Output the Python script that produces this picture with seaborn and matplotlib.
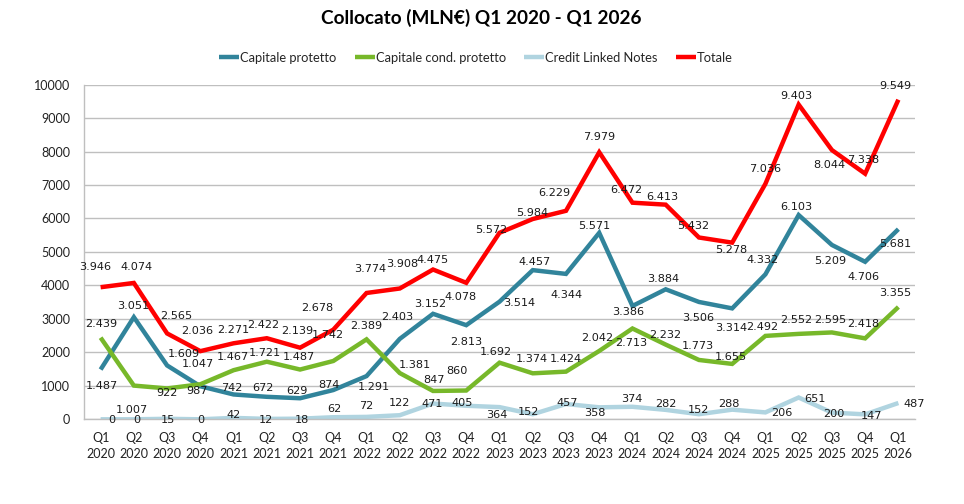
import matplotlib
matplotlib.use("Agg")
import matplotlib.pyplot as plt
import seaborn as sns
import pandas as pd

# ---------------- data ----------------
quarters = ["Q1\n2020", "Q2\n2020", "Q3\n2020", "Q4\n2020",
            "Q1\n2021", "Q2\n2021", "Q3\n2021", "Q4\n2021",
            "Q1\n2022", "Q2\n2022", "Q3\n2022", "Q4\n2022",
            "Q1\n2023", "Q2\n2023", "Q3\n2023", "Q4\n2023",
            "Q1\n2024", "Q2\n2024", "Q3\n2024", "Q4\n2024",
            "Q1\n2025", "Q2\n2025", "Q3\n2025", "Q4\n2025",
            "Q1\n2026"]

capitale_protetto = [1487, 3051, 1609, 987, 742, 672, 629, 874, 1291, 2403, 3152, 2813,
                     3514, 4457, 4344, 5571, 3386, 3884, 3506, 3314, 4332, 6103, 5209, 4706, 5681]
capitale_cond = [2439, 1007, 922, 1047, 1467, 1721, 1487, 1742, 2389, 1381, 847, 860,
                 1692, 1374, 1424, 2042, 2713, 2232, 1773, 1655, 2492, 2552, 2595, 2418, 3355]
credit_linked = [0, 0, 15, 0, 42, 12, 18, 62, 72, 122, 471, 405,
                 364, 152, 457, 358, 374, 282, 152, 288, 206, 651, 200, 147, 487]
totale = [3946, 4074, 2565, 2036, 2271, 2422, 2139, 2678, 3774, 3908, 4475, 4078,
          5572, 5984, 6229, 7979, 6472, 6413, 5432, 5278, 7036, 9403, 8044, 7338, 9549]

series_names = ["Capitale protetto", "Capitale cond. protetto", "Credit Linked Notes", "Totale"]
y_ticks = [0, 1000, 2000, 3000, 4000, 5000, 6000, 7000, 8000, 9000, 10000]
title = "Collocato (MLN€) Q1 2020 - Q1 2026"

# ---------------- style ----------------
colors = {"Capitale protetto": "#31849B", "Capitale cond. protetto": "#77B82A",
          "Credit Linked Notes": "#B0D4E0", "Totale": "#FF0000"}

# label offsets in pixels (dx right, dy down) relative to each point
off_tot = [(-5, -20), (3, -16), (9, -17), (-3, -20), (0, -13), (-4, -13), (-3, -17), (-16, -22),
           (4, -24), (2, -24), (-1, -10), (-6, 14), (-8, -3), (-1, -6), (-12, -18), (0, -15),
           (-6, -13), (-3, -8), (-6, -11), (-1, 7), (0, -15), (-2, -9), (-3, 15), (-2, -14), (-3, -14)]
off_cp = [(1, 16), (-1, -11), (17, -11), (-3, 5), (-2, -6), (-4, -9), (-3, -7), (-4, -5),
          (7, 11), (-3, -22), (-3, -10), (0, 17), (20, 1), (2, -8), (1, 21), (-5, -7),
          (-4, 6), (-3, -10), (-1, 16), (-1, 20), (-3, -14), (-2, -8), (-2, 16), (-2, 15), (-3, 15)]
off_cc = [(1, -14), (-2, 24), (0, 5), (-3, -20), (-1, -13), (-2, -9), (-1, -13), (-6, -26),
          (0, -13), (15, -8), (1, -11), (-9, -20), (-4, -11), (-1, -14), (0, -13), (-2, -13),
          (-1, 15), (0, -10), (-1, -14), (-1, -7), (-3, -9), (-2, -14), (-2, -12), (-2, -14), (-3, -14)]
off_cln = [(11, 1), (3, 1), (1, 1), (0, 1), (0, -3), (-1, 1), (2, 1), (1, -8),
           (0, -11), (0, -12), (-1, 0), (-4, -3), (-3, 8), (-4, -2), (1, -1), (-4, 6),
           (-1, -8), (0, -6), (-1, -4), (-3, -6), (16, 1), (16, 1), (2, 1), (6, 2), (16, 1)]

sns.set_theme(style="white")
plt.rcParams["font.family"] = ["Lato", "DejaVu Sans"]

W, H = 964, 504
fig = plt.figure(figsize=(W / 100, H / 100), dpi=100)
ax_l, ax_r, ax_t, ax_b = 84, 915, 84.6, 419.3
ax = fig.add_axes([ax_l / W, 1 - ax_b / H, (ax_r - ax_l) / W, (ax_b - ax_t) / H])

values = {"Capitale protetto": capitale_protetto, "Capitale cond. protetto": capitale_cond,
          "Credit Linked Notes": credit_linked, "Totale": totale}
rows = []
for name in series_names:
    for i, v in enumerate(values[name]):
        rows.append({"x": i, "Valore": v, "Serie": name})
df = pd.DataFrame(rows)

sns.lineplot(data=df, x="x", y="Valore", hue="Serie", hue_order=series_names,
             palette=colors, linewidth=3.2, ax=ax, sort=False, legend=True)

for l in ax.get_lines():
    l.set_solid_capstyle("butt")
    l.set_solid_joinstyle("miter")

ax.set_xlim(-0.5, 24.5)
ax.set_ylim(0, 10000)
ax.set_yticks(y_ticks)
ax.set_yticklabels([str(t) for t in y_ticks])
ax.set_xticks(range(len(quarters)))
ax.set_xticklabels(quarters, linespacing=1.45)
ax.tick_params(axis="y", length=0, pad=10, labelsize=9, colors="#222222")
ax.tick_params(axis="x", length=0, pad=9, labelsize=9, colors="#222222")
ax.set_xlabel("")
ax.set_ylabel("")
ax.yaxis.grid(True, color="#BFBFBF", linewidth=1)
ax.xaxis.grid(False)
for s in ["top", "right"]:
    ax.spines[s].set_visible(False)
ax.spines["left"].set_color("#BFBFBF")
ax.spines["bottom"].set_color("#BFBFBF")
ax.spines["left"].set_linewidth(1)
ax.spines["bottom"].set_linewidth(1)

def fmt(v):
    return f"{v:,}".replace(",", ".")

for name, offs in zip(series_names, [off_cp, off_cc, off_cln, off_tot]):
    for i, v in enumerate(values[name]):
        dx, dy = offs[i]
        ax.annotate(fmt(v), xy=(i, v), xytext=(dx, -dy), textcoords="offset pixels",
                    ha="center", va="center", fontsize=8.1, family="DejaVu Sans",
                    color="#1a1a1a", zorder=5)

handles, labels = ax.get_legend_handles_labels()
if ax.legend_:
    ax.legend_.remove()
leg = fig.legend(handles, labels, loc="center", bbox_to_anchor=(476 / W, 1 - 58 / H),
                 ncol=4, frameon=False, fontsize=9.3, handlelength=1.55, handletextpad=0.05,
                 columnspacing=1.45)
for lh in leg.get_lines():
    lh.set_linewidth(3.2)

fig.text(481.5 / W, 1 - 18 / H, title, ha="center", va="center", fontsize=13.7,
         fontweight="bold", color="#000000")

fig.savefig("out.png", dpi=100)
